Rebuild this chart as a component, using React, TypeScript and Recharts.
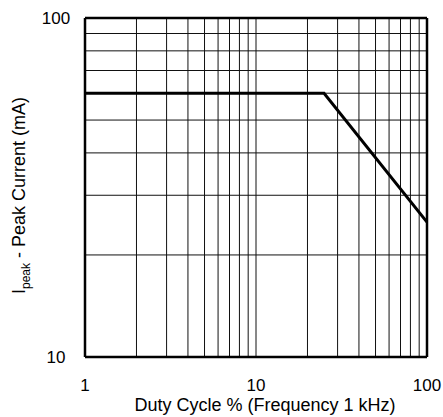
import React from 'react';
import { LineChart, Line, XAxis, YAxis, ReferenceLine } from 'recharts';

const dutyCycle = [1, 25, 100];
const peakCurrent = [60, 60, 25];
const xTicks = [1, 10, 100];
const yTicks = [10, 100];
const xGrid = [2, 3, 4, 5, 6, 7, 8, 9, 10, 20, 30, 40, 50, 60, 70, 80, 90];
const yGrid = [20, 30, 40, 50, 60, 70, 80, 90];

const data = dutyCycle.map((d, i) => ({ duty: d, current: peakCurrent[i] }));

const FONT = 'Liberation Sans, Arial, Helvetica, sans-serif';
const FS = 18;
const TFS = 17;

const YTick = (props: any) => {
  const { x, y, payload } = props;
  return (
    <text x={x - 21} y={y + 6} textAnchor="middle" fontFamily={FONT} fontSize={TFS} fill="#000">
      {payload.value}
    </text>
  );
};

const XTick = (props: any) => {
  const { x, y, payload } = props;
  return (
    <text x={x} y={y + 26} textAnchor="middle" fontFamily={FONT} fontSize={TFS} fill="#000">
      {payload.value}
    </text>
  );
};

const YLabel = (props: any) => {
  const vb = props.viewBox || {};
  const cx = 25;
  const cy = (vb.y ?? 18) + (vb.height ?? 339) / 2 + 8;
  return (
    <text
      x={cx}
      y={cy}
      transform={`rotate(-90, ${cx}, ${cy})`}
      textAnchor="middle"
      fontFamily={FONT}
      fontSize={FS}
      fill="#000"
    >
      <tspan>I</tspan>
      <tspan fontSize={12} dy={5}>peak</tspan>
      <tspan dy={-5}> - Peak Current (mA)</tspan>
    </text>
  );
};

const XLabel = (props: any) => {
  const vb = props.viewBox || {};
  const cx = (vb.x ?? 85) + (vb.width ?? 342) / 2 + 9;
  return (
    <text x={cx} y={411} textAnchor="middle" fontFamily={FONT} fontSize={FS} fill="#000">
      Duty Cycle % (Frequency 1 kHz)
    </text>
  );
};

export default function App() {
  return (
    <div style={{ position: 'absolute', left: 0, top: 0, background: '#fff' }}>
      <LineChart
        width={443}
        height={417}
        data={data}
        margin={{ top: 18, right: 16, bottom: 0, left: 0 }}
      >
        <XAxis
          dataKey="duty"
          type="number"
          scale="log"
          domain={[1, 100]}
          ticks={xTicks}
          allowDataOverflow
          axisLine={false}
          tickLine={false}
          height={60}
          tick={<XTick />}
          label={<XLabel />}
        />
        <YAxis
          dataKey="current"
          type="number"
          scale="log"
          domain={[10, 100]}
          ticks={yTicks}
          allowDataOverflow
          axisLine={false}
          tickLine={false}
          width={85}
          tick={<YTick />}
          label={<YLabel />}
        />
        {xGrid.map((v) => (
          <ReferenceLine key={`x${v}`} x={v} stroke="#111" strokeWidth={1} />
        ))}
        {yGrid.map((v) => (
          <ReferenceLine key={`y${v}`} y={v} stroke="#111" strokeWidth={1} />
        ))}
        <ReferenceLine x={1} stroke="#000" strokeWidth={2.5} />
        <ReferenceLine x={100} stroke="#000" strokeWidth={2.5} />
        <ReferenceLine y={10} stroke="#000" strokeWidth={2.5} />
        <ReferenceLine y={100} stroke="#000" strokeWidth={2.5} />
        <Line
          dataKey="current"
          stroke="#000"
          strokeWidth={3}
          dot={false}
          type="linear"
          isAnimationActive={false}
        />
      </LineChart>
    </div>
  );
}
